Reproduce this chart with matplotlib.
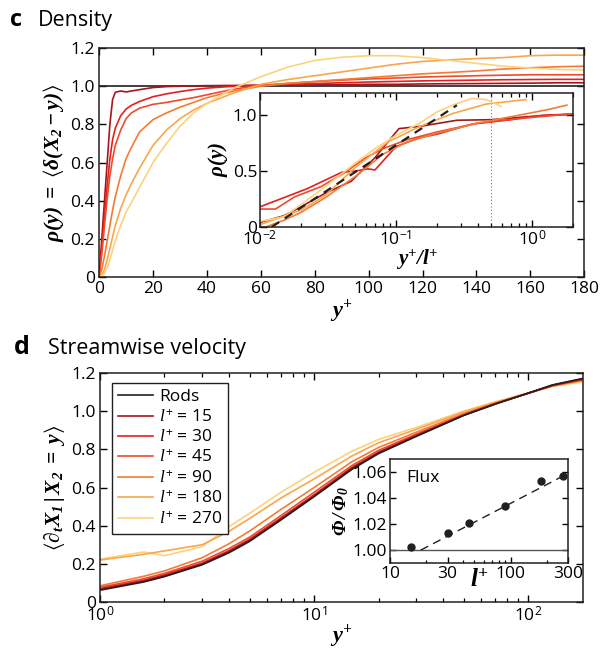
import numpy as np
import matplotlib
matplotlib.use("Agg")
import matplotlib.pyplot as plt
from matplotlib.ticker import FixedLocator, LogLocator, NullFormatter

plt.rcParams['font.family'] = ['Open Sans', 'DejaVu Sans']
plt.rcParams['mathtext.fontset'] = 'custom'
plt.rcParams['mathtext.rm'] = 'Open Sans'
plt.rcParams['mathtext.it'] = 'Liberation Serif:italic'
plt.rcParams['mathtext.bf'] = 'Liberation Serif:italic:bold'
plt.rcParams['mathtext.fallback'] = 'stix'
plt.rcParams['axes.edgecolor'] = '#231f20'
plt.rcParams['axes.linewidth'] = 1.1

# colours per series
colors = {
  "Rods": "#231f20",
  "15": "#a8141c",
  "30": "#e2201f",
  "45": "#ef4b2b",
  "90": "#f47b34",
  "180": "#f9a64c",
  "270": "#fdd27c",
}

# ---- panel c : density vs y+
yp = [0, 1, 2, 3, 4, 5, 6, 8, 10, 12, 15, 20, 25, 30, 35, 40, 50, 60, 70, 80, 90, 100, 110, 120, 130, 140, 150, 160, 170, 180]
rho15 = [0, 0.2, 0.4, 0.6, 0.8, 0.93, 0.968, 0.975, 0.97, 0.975, 0.982, 0.993, 0.998, 1.0, 1.002, 1.003, 1.004, 1.005, 1.006, 1.007, 1.008, 1.01, 1.01, 1.012, 1.013, 1.014, 1.015, 1.016, 1.018, 1.018]
rho30 = [0, 0.15, 0.32, 0.48, 0.62, 0.72, 0.78, 0.845, 0.88, 0.9, 0.92, 0.945, 0.96, 0.972, 0.982, 0.99, 1.0, 1.006, 1.01, 1.014, 1.018, 1.022, 1.025, 1.028, 1.03, 1.032, 1.034, 1.035, 1.036, 1.036]
rho45 = [0, 0.12, 0.27, 0.41, 0.53, 0.62, 0.69, 0.77, 0.83, 0.86, 0.885, 0.905, 0.915, 0.928, 0.94, 0.955, 0.985, 1.005, 1.015, 1.024, 1.032, 1.038, 1.043, 1.048, 1.052, 1.055, 1.058, 1.06, 1.06, 1.06]
rho90 = [0, 0.04, 0.11, 0.19, 0.27, 0.35, 0.42, 0.53, 0.62, 0.68, 0.76, 0.825, 0.86, 0.89, 0.915, 0.94, 0.975, 1.0, 1.015, 1.025, 1.035, 1.045, 1.055, 1.065, 1.072, 1.08, 1.09, 1.097, 1.102, 1.105]
rho180 = [0, 0.01, 0.04, 0.09, 0.15, 0.21, 0.27, 0.36, 0.43, 0.49, 0.57, 0.69, 0.77, 0.83, 0.875, 0.91, 0.965, 1.01, 1.035, 1.055, 1.075, 1.095, 1.115, 1.13, 1.138, 1.145, 1.15, 1.16, 1.163, 1.163]
rho270 = [0, 0.005, 0.02, 0.05, 0.09, 0.14, 0.19, 0.27, 0.34, 0.39, 0.47, 0.6, 0.7, 0.79, 0.86, 0.91, 0.99, 1.05, 1.1, 1.135, 1.152, 1.16, 1.16, 1.15, 1.135, 1.12, 1.105, 1.095, 1.088, 1.085]
rho_rods = [1.0, 1.0]
rods_x = [0, 180]

# inset c : rho vs y+/l+
in15_x = [0.01, 0.015, 0.02, 0.03, 0.047, 0.07, 0.105, 0.15, 0.28, 0.5, 1.0, 2.0]
in15_y = [0.04, 0.1, 0.18, 0.3, 0.41, 0.62, 0.88, 0.9, 0.955, 0.96, 0.99, 1.01]
in30_x = [0.01, 0.022, 0.04, 0.05, 0.062, 0.07, 0.1, 0.15, 0.2, 0.36, 0.7, 1.2, 2.0]
in30_y = [0.18, 0.34, 0.49, 0.5, 0.52, 0.51, 0.72, 0.8, 0.83, 0.92, 0.96, 1.0, 1.01]
in45_x = [0.01, 0.013, 0.018, 0.028, 0.04, 0.06, 0.08, 0.12, 0.2, 0.4, 0.8, 1.5, 2.0]
in45_y = [0.16, 0.16, 0.27, 0.36, 0.47, 0.62, 0.7, 0.78, 0.85, 0.93, 0.97, 1.0, 1.01]
in90_x = [0.011, 0.015, 0.02, 0.03, 0.05, 0.08, 0.12, 0.2, 0.4, 0.8, 1.3, 1.8]
in90_y = [0.0, 0.06, 0.13, 0.26, 0.45, 0.65, 0.76, 0.84, 0.93, 1.0, 1.05, 1.09]
in180_x = [0.01, 0.02, 0.03, 0.05, 0.087, 0.15, 0.26, 0.46, 0.9]
in180_y = [0.02, 0.15, 0.28, 0.53, 0.76, 0.9, 1.015, 1.1, 1.14]
in270_x = [0.01, 0.015, 0.028, 0.05, 0.07, 0.1, 0.15, 0.2, 0.26, 0.36, 0.46, 0.59]
in270_y = [0.05, 0.09, 0.33, 0.57, 0.70, 0.82, 0.93, 1.03, 1.09, 1.15, 1.14, 1.08]
fit_x = [0.0122, 0.28]
fit_y = [0.0, 1.09]

# ---- panel d : streamwise velocity vs y+
vx = [1, 1.6, 2, 3, 4, 5, 7, 10, 15, 20, 30, 50, 70, 100, 130, 180]
v_rods = [0.062, 0.105, 0.133, 0.195, 0.258, 0.318, 0.43, 0.552, 0.695, 0.778, 0.868, 0.978, 1.037, 1.095, 1.138, 1.172]
v15 = [0.066, 0.109, 0.137, 0.199, 0.263, 0.323, 0.435, 0.557, 0.7, 0.782, 0.871, 0.979, 1.038, 1.095, 1.137, 1.17]
v30 = [0.07, 0.114, 0.142, 0.204, 0.269, 0.329, 0.441, 0.562, 0.705, 0.786, 0.874, 0.98, 1.039, 1.094, 1.136, 1.168]
v45 = [0.077, 0.122, 0.15, 0.214, 0.28, 0.34, 0.453, 0.575, 0.715, 0.795, 0.88, 0.982, 1.04, 1.094, 1.135, 1.166]
v90 = [0.085, 0.135, 0.163, 0.232, 0.305, 0.372, 0.485, 0.6, 0.735, 0.81, 0.89, 0.988, 1.042, 1.094, 1.133, 1.163]
v180 = [0.22, 0.25, 0.268, 0.3, 0.37, 0.438, 0.545, 0.645, 0.765, 0.835, 0.905, 0.996, 1.046, 1.095, 1.131, 1.159]
v270 = [0.225, 0.262, 0.243, 0.29, 0.395, 0.465, 0.575, 0.68, 0.79, 0.852, 0.915, 1.001, 1.049, 1.096, 1.13, 1.155]

# inset d : flux
flux_l = [15, 30, 45, 90, 180, 270]
flux_phi = [1.002, 1.013, 1.021, 1.034, 1.053, 1.057]
flux_fit_l = [18, 300]
flux_fit_phi = [1.0, 1.059]

lw = 1.2
fs_tick = 12.5
fs_lab = 15.5
tick_kw = dict(direction='in', top=True, right=True, labelsize=fs_tick, width=1.0)

fig = plt.figure(figsize=(6.08, 6.54), dpi=100)

# ===== panel c
ax = fig.add_axes([0.163, 0.5765, 0.798, 0.350])
ax.plot(rods_x, rho_rods, color=colors["Rods"], lw=lw)
for key, rho in [("15", rho15), ("30", rho30), ("45", rho45), ("90", rho90), ("180", rho180), ("270", rho270)]:
  ax.plot(yp, rho, color=colors[key], lw=lw)
ax.set_xlim(0, 180)
ax.set_ylim(0, 1.2)
ax.set_xticks(np.arange(0, 181, 20))
ax.set_yticks([0, 0.2, 0.4, 0.6, 0.8, 1.0, 1.2])
ax.set_yticklabels(["0", "0.2", "0.4", "0.6", "0.8", "1.0", "1.2"])
ax.tick_params(length=5, pad=3, **tick_kw)
ax.set_xlabel(r'$\mathbf{y^{+}}$', fontsize=16, labelpad=0)
ax.set_ylabel(r'$\mathbf{\rho(y)}\ =\ \langle\mathbf{\delta(X_2 - y)}\rangle$', fontsize=fs_lab, labelpad=3)
fig.text(0.016, 0.960, "c", fontsize=17, fontweight='bold')
fig.text(0.062, 0.960, "Density", fontsize=15.5)

# inset c
axi = fig.add_axes([0.4276, 0.653, 0.515, 0.205])
axi.set_xscale('log')
axi.axvline(0.5, color='#777777', lw=0.8, ls=(0, (1, 2)))
for key, xx, yy in [("15", in15_x, in15_y), ("30", in30_x, in30_y), ("45", in45_x, in45_y),
                    ("90", in90_x, in90_y), ("180", in180_x, in180_y), ("270", in270_x, in270_y)]:
  axi.plot(xx, yy, color=colors[key], lw=lw)
axi.plot(fit_x, fit_y, color='#231f20', lw=1.6, ls=(0, (4, 3)))
axi.set_xlim(0.01, 2)
axi.set_ylim(0, 1.2)
axi.set_yticks([0, 0.5, 1.0])
axi.set_yticklabels(["0", "0.5", "1.0"])
axi.xaxis.set_major_locator(FixedLocator([0.01, 0.1, 1]))
axi.set_xticklabels([r'$10^{-2}$', r'$10^{-1}$', r'$10^{0}$'])
axi.xaxis.set_minor_locator(LogLocator(base=10, subs=np.arange(2, 10)))
axi.xaxis.set_minor_formatter(NullFormatter())
axi.tick_params(which='major', length=5, pad=2, **tick_kw)
axi.tick_params(which='minor', length=3, direction='in', top=True, right=True, width=0.9)
axi.set_xlabel(r'$\mathbf{y^{+}/l^{+}}$', fontsize=15, labelpad=-1)
axi.set_ylabel(r'$\mathbf{\rho(y)}$', fontsize=15, labelpad=2)

# ===== panel d
bx = fig.add_axes([0.1645, 0.0795, 0.794, 0.350])
bx.set_xscale('log')
series = [("Rods", v_rods, "Rods"), ("15", v15, r'$l^{+}$ = 15'), ("30", v30, r'$l^{+}$ = 30'),
          ("45", v45, r'$l^{+}$ = 45'), ("90", v90, r'$l^{+}$ = 90'), ("180", v180, r'$l^{+}$ = 180'),
          ("270", v270, r'$l^{+}$ = 270')]
# draw light curves first so red ones sit on top, legend order kept separately
handles = {}
for key, vv, lab in reversed(series):
  h, = bx.plot(vx, vv, color=colors[key], lw=lw, label=lab)
  handles[key] = h
bx.set_xlim(1, 180)
bx.set_ylim(0, 1.2)
bx.set_yticks([0, 0.2, 0.4, 0.6, 0.8, 1.0, 1.2])
bx.set_yticklabels(["0", "0.2", "0.4", "0.6", "0.8", "1.0", "1.2"])
bx.xaxis.set_major_locator(FixedLocator([1, 10, 100]))
bx.set_xticklabels([r'$10^{0}$', r'$10^{1}$', r'$10^{2}$'])
bx.xaxis.set_minor_locator(LogLocator(base=10, subs=np.arange(2, 10)))
bx.xaxis.set_minor_formatter(NullFormatter())
bx.tick_params(which='major', length=5, pad=3, **tick_kw)
bx.tick_params(which='minor', length=3, direction='in', top=True, right=True, width=0.9)
bx.set_xlabel(r'$\mathbf{y^{+}}$', fontsize=16, labelpad=-2)
bx.set_ylabel(r'$\langle\mathbf{\partial_t X_1\,|\,X_2}\ =\ \mathbf{y}\rangle$', fontsize=fs_lab, labelpad=3)
leg = bx.legend([handles[k] for k, _, _ in series], [lab for _, _, lab in series],
                loc='upper left', bbox_to_anchor=(0.025, 0.957), borderaxespad=0,
                fontsize=12.5, handlelength=2.0, labelspacing=0.22, handletextpad=0.35,
                fancybox=False, framealpha=1, edgecolor='#231f20', borderpad=0.35)
leg.get_frame().set_linewidth(1.0)
fig.text(0.022, 0.458, "d", fontsize=18, fontweight='bold')
fig.text(0.079, 0.458, "Streamwise velocity", fontsize=15.5)

# inset d
bxi = fig.add_axes([0.6414, 0.139, 0.293, 0.159])
bxi.set_xscale('log')
bxi.axhline(1.0, color='#555555', lw=1.0)
bxi.plot(flux_fit_l, flux_fit_phi, color='#231f20', lw=1.0, ls=(0, (6, 4)))
bxi.plot(flux_l, flux_phi, 'o', color='#231f20', ms=5)
bxi.set_xlim(10, 300)
bxi.set_ylim(0.99, 1.07)
bxi.set_yticks([1.00, 1.02, 1.04, 1.06])
bxi.set_yticklabels(["1.00", "1.02", "1.04", "1.06"])
bxi.xaxis.set_major_locator(FixedLocator([10, 30, 100, 300]))
bxi.set_xticklabels(["10", "30", "100", "300"])
bxi.xaxis.set_minor_locator(LogLocator(base=10, subs=np.arange(2, 10)))
bxi.xaxis.set_minor_formatter(NullFormatter())
bxi.tick_params(which='major', length=4, pad=2, direction='in', right=True, labelsize=fs_tick, width=1.0)
bxi.tick_params(which='minor', length=2.5, direction='in', width=0.9)
bxi.text(0.09, 0.9, "Flux", transform=bxi.transAxes, fontsize=12.5, va='top')
bxi.set_xlabel(r'$\mathbf{l^{+}}$', fontsize=18, labelpad=-10)
bxi.set_ylabel(r'$\mathbf{\Phi\,/\,\Phi_0}$', fontsize=14, labelpad=1)

fig.savefig("out.png", dpi=100)
